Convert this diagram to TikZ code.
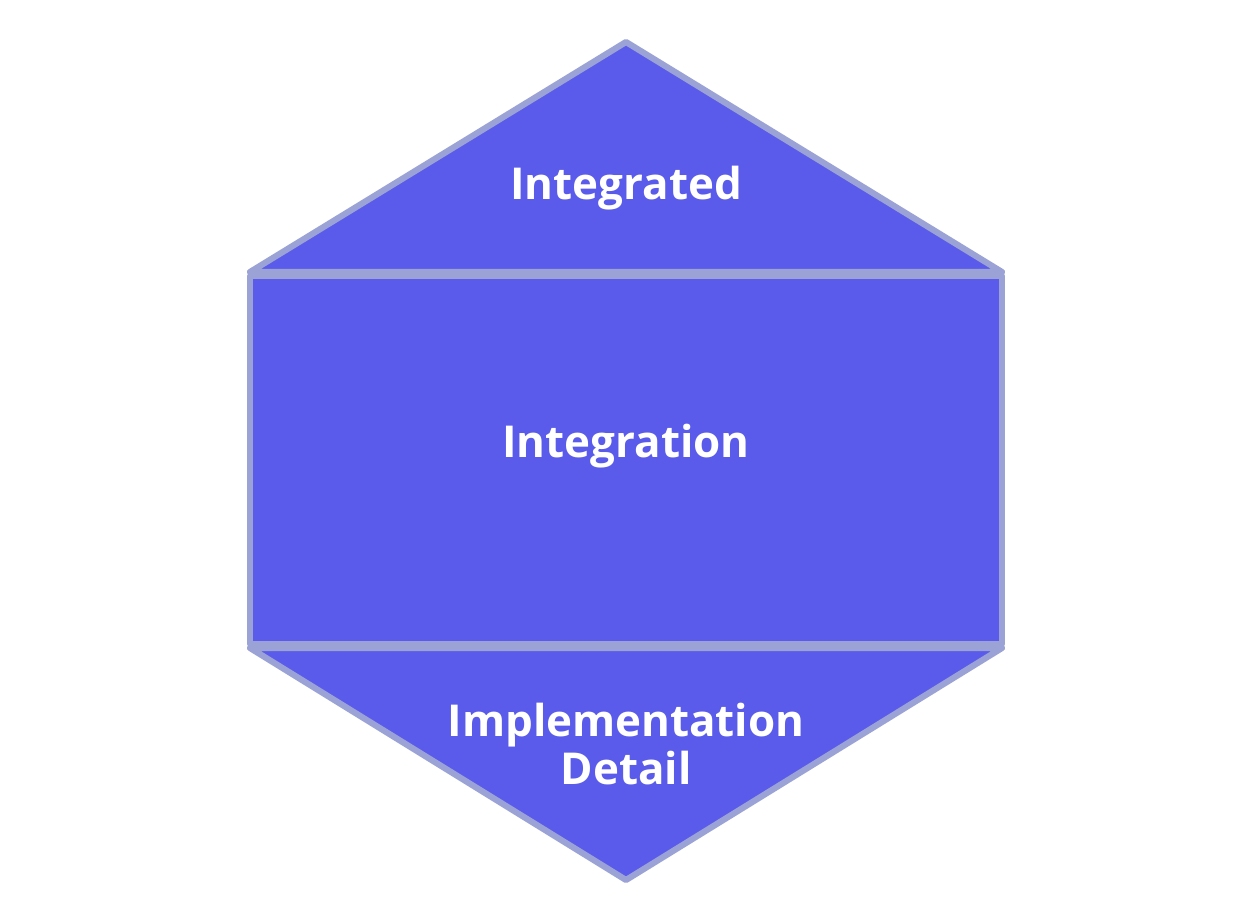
\documentclass[tikz,border=0pt]{standalone}
\usepackage{fontspec}
\setmainfont{Open Sans}
\usepackage{tikz}
\usetikzlibrary{positioning}
\definecolor{layerfill}{RGB}{90,91,234}
\definecolor{layeredge}{RGB}{155,163,214}

\begin{document}
\begin{tikzpicture}[x=0.02cm, y=-0.02cm,
    layer/.style={line width=3.5pt, layeredge, fill=layerfill, line join=round},
    label/.style={text=white, font=\fontsize{25}{31}\selectfont\bfseries, align=center}]
    % Frame
    \useasboundingbox (0,0) rectangle (1246,908);
    % Layers
    \draw[layer] (626,42) -- (1002,272) -- (250,272) -- cycle;
    \draw[layer] (250,276) rectangle (1002,644);
    \draw[layer] (250,648) -- (1002,648) -- (626,880) -- cycle;
    % Labels
    \node[label] (integrated) at (626,188) {Integrated};
    \node[label] (integration) at (626,446) {Integration};
    \node[label] (detail) at (626,744) {Implementation\\[-4pt]Detail};
\end{tikzpicture}
\end{document}
